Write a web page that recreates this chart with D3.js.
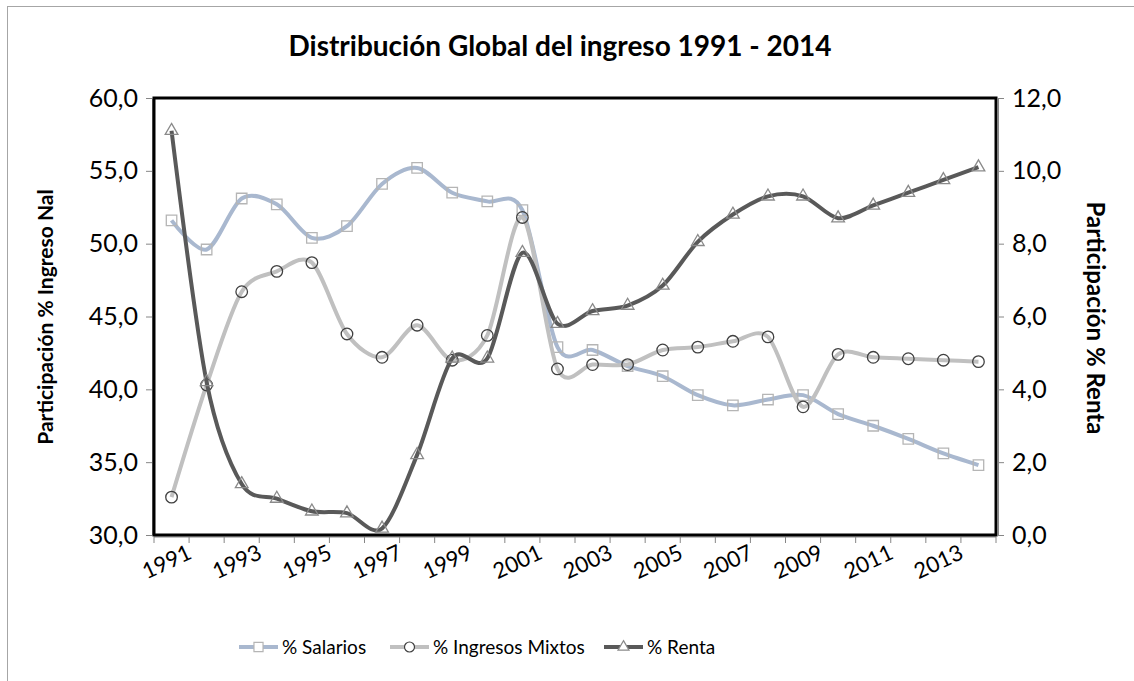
<!DOCTYPE html>
<html>
<head>
<meta charset="utf-8">
<script src="https://cdn.jsdelivr.net/npm/d3@7"></script>
<style>
  body { margin: 0; background: #fff; }
  svg { font-family: Lato, "Open Sans", sans-serif; }
</style>
</head>
<body>
<svg id="chart" width="1134" height="681"></svg>
<script>
// data
var years = d3.range(1991, 2015).map(String);
var tickYears = ["1991","1993","1995","1997","1999","2001","2003","2005","2007","2009","2011","2013"];
var salarios = [51.6, 49.6, 53.1, 52.7, 50.4, 51.2, 54.1, 55.2, 53.5, 52.9, 52.3, 42.9,
	42.7, 41.6, 40.9, 39.6, 38.9, 39.3, 39.6, 38.3, 37.5, 36.6, 35.6, 34.8];
var mixtos = [32.6, 40.3, 46.7, 48.1, 48.7, 43.8, 42.2, 44.4, 42.0, 43.7, 51.8, 41.4,
	41.7, 41.7, 42.7, 42.9, 43.3, 43.6, 38.8, 42.4, 42.2, 42.1, 42.0, 41.9];
var renta = [11.1, 4.2, 1.4, 1.0, 0.65, 0.6, 0.18, 2.2, 4.85, 4.85, 7.75, 5.8,
	6.15, 6.3, 6.85, 8.05, 8.8, 9.3, 9.3, 8.7, 9.05, 9.4, 9.75, 10.1];
var leftTicks = [30, 35, 40, 45, 50, 55, 60];
var rightTicks = [0, 2, 4, 6, 8, 10, 12];

var svg = d3.select("#chart");

//plot box
var pLeft = 154, pRight = 996, pTop = 98, pBottom = 535;

var x = d3.scaleBand().domain(years).range([pLeft, pRight]);
var cx = function(i){ return x(years[i]) + x.bandwidth()/2; };
var yL = d3.scaleLinear().domain([30, 60]).range([pBottom, pTop]);
var yR = d3.scaleLinear().domain([0, 12]).range([pBottom, pTop]);
var fmt = function(d){ return d3.format(".1f")(d).replace(".", ","); };

//outer chart border
svg.append("rect")
	.attr("x", 7.5).attr("y", 6.5)
	.attr("width", 1140).attr("height", 700)
	.attr("fill", "none").attr("stroke", "#a6a6a6");

//title
svg.append("text")
	.attr("x", 560).attr("y", 56)
	.attr("text-anchor", "middle")
	.attr("font-size", 28).attr("font-weight", "bold")
	.text("Distribución Global del ingreso 1991 - 2014");

//axes
var axL = svg.append("g")
	.attr("transform", "translate(" + (pLeft - 2) + ",0)")
	.call(d3.axisLeft(yL).tickValues(leftTicks).tickFormat(fmt).tickSize(6).tickSizeOuter(0));
var axR = svg.append("g")
	.attr("transform", "translate(" + (pRight + 2) + ",0)")
	.call(d3.axisRight(yR).tickValues(rightTicks).tickFormat(fmt).tickSize(6).tickSizeOuter(0));
[axL, axR].forEach(function(a){
	a.select(".domain").attr("stroke", "#868686");
	a.selectAll(".tick line").attr("stroke", "#868686");
	a.selectAll(".tick text").attr("font-size", 25).attr("fill", "#000").attr("font-family", "Lato");
});
axL.selectAll(".tick text").attr("x", -14);
axR.selectAll(".tick text").attr("x", 14);

//x axis: ticks between categories
var xg = svg.append("g");
xg.append("line")
	.attr("x1", pLeft).attr("x2", pRight)
	.attr("y1", pBottom + 2).attr("y2", pBottom + 2)
	.attr("stroke", "#868686");
xg.selectAll(".xt")
	.data(years.concat(["end"]))
	.enter().append("line")
	.attr("x1", function(d){ return d == "end" ? pRight : x(d); })
	.attr("x2", function(d){ return d == "end" ? pRight : x(d); })
	.attr("y1", pBottom + 2).attr("y2", pBottom + 8)
	.attr("stroke", "#868686");
xg.selectAll(".xl")
	.data(tickYears)
	.enter().append("text")
	.attr("text-anchor", "end")
	.attr("font-size", 22)
	.attr("transform", function(d){
		return "translate(" + (x(d) + x.bandwidth()/2 + 15) + "," + (pBottom + 9) + ") rotate(-25)";
	})
	.attr("dy", "0.7em")
	.text(function(d){ return d; });

//plot frame
svg.append("rect")
	.attr("x", pLeft).attr("y", pTop)
	.attr("width", pRight - pLeft).attr("height", pBottom - pTop)
	.attr("fill", "none").attr("stroke", "#000").attr("stroke-width", 3);

//axis titles
svg.append("text")
	.attr("transform", "translate(53,317) rotate(-90)")
	.attr("text-anchor", "middle")
	.attr("font-size", 21).attr("font-weight", "bold")
	.text("Participación % Ingreso Nal");
svg.append("text")
	.attr("transform", "translate(1087,318) rotate(90)")
	.attr("text-anchor", "middle")
	.attr("font-size", 24).attr("font-weight", "bold")
	.text("Participación % Renta");

//series
var series = [
	{name: "% Salarios", values: salarios, y: yL, color: "#a9b8cf", marker: d3.symbolSquare, mstroke: "#b5b5b5", msize: 110},
	{name: "% Ingresos Mixtos", values: mixtos, y: yL, color: "#c0c0c0", marker: d3.symbolCircle, mstroke: "#404040", msize: 105},
	{name: "% Renta", values: renta, y: yR, color: "#595959", marker: d3.symbolTriangle, mstroke: "#8a8a8a", msize: 70}
];

var plot = svg.append("g");
series.forEach(function(s){
	var line = d3.line()
		.x(function(d, i){ return cx(i); })
		.y(function(d){ return s.y(d); })
		.curve(d3.curveCardinal.tension(0.1));
	plot.append("path")
		.datum(s.values)
		.attr("d", line)
		.attr("fill", "none")
		.attr("stroke", s.color)
		.attr("stroke-width", 4)
		.attr("stroke-linejoin", "round");
	plot.selectAll(null)
		.data(s.values)
		.enter().append("path")
		.attr("d", d3.symbol().type(s.marker).size(s.msize))
		.attr("transform", function(d, i){ return "translate(" + cx(i) + "," + s.y(d) + ")"; })
		.attr("fill", "none")
		.attr("stroke", s.mstroke)
		.attr("stroke-width", 1.3);
});

//legend
var legendX = [239, 390, 604];
var leg = svg.append("g");
series.forEach(function(s, i){
	var g = leg.append("g").attr("transform", "translate(" + legendX[i] + ",647)");
	g.append("line").attr("x1", 0).attr("x2", 39)
		.attr("stroke", s.color).attr("stroke-width", 4);
	g.append("path")
		.attr("d", d3.symbol().type(s.marker).size(s.msize * 0.75))
		.attr("transform", "translate(19.5,0)")
		.attr("fill", "#fff").attr("stroke", s.mstroke).attr("stroke-width", 1.2);
	g.append("text")
		.attr("x", 43).attr("dy", "0.35em")
		.attr("font-size", 19)
		.text(s.name);
});
</script>
</body>
</html>
